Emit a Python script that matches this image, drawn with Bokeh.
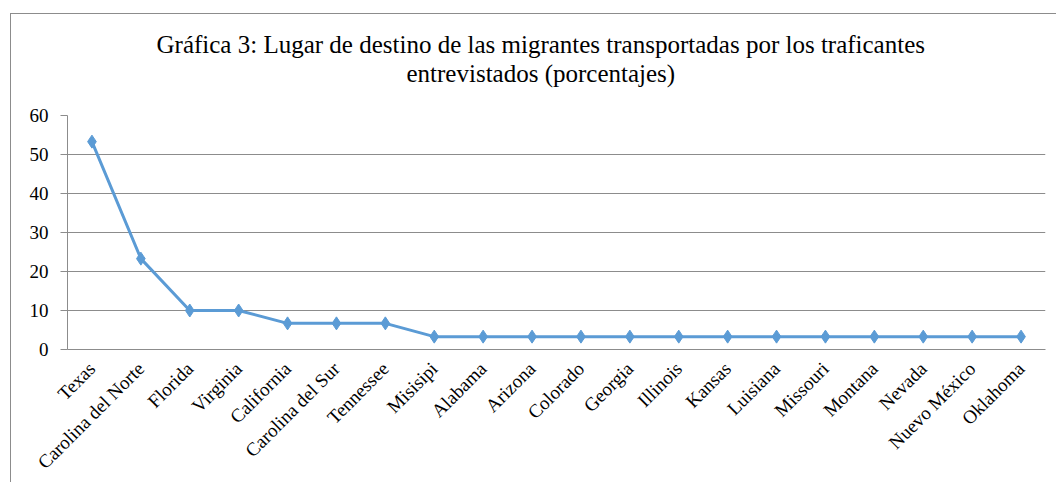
from bokeh.plotting import figure
from bokeh.embed import file_html
from bokeh.resources import INLINE
from bokeh.models import FactorRange, Range1d, FixedTicker, Title

categories = ["Texas", "Carolina del Norte", "Florida", "Virginia", "California",
              "Carolina del Sur", "Tennessee", "Misisipi", "Alabama", "Arizona",
              "Colorado", "Georgia", "Illinois", "Kansas", "Luisiana", "Missouri",
              "Montana", "Nevada", "Nuevo México", "Oklahoma"]
values = [53.3, 23.3, 10.0, 10.0, 6.7, 6.7, 6.7, 3.3, 3.3, 3.3,
          3.3, 3.3, 3.3, 3.3, 3.3, 3.3, 3.3, 3.3, 3.3, 3.3]
y_ticks = [0, 10, 20, 30, 40, 50, 60]
title_lines = ["Gráfica 3: Lugar de destino de las migrantes transportadas por los traficantes",
               "entrevistados (porcentajes)"]

FONT = "Liberation Serif"
GRAY = "#8c8c8c"
BLUE = "#5B9BD5"

p = figure(width=1046, height=469, output_backend="svg", toolbar_location=None,
           x_range=FactorRange(*categories, range_padding=0),
           y_range=Range1d(0, 60),
           min_border_left=56, min_border_right=12, min_border_top=101,
           min_border_bottom=134)
p.margin = (13, 0, 0, 10)
p.styles = {"border-top": "1px solid " + GRAY, "border-left": "1px solid " + GRAY}
p.title = None

title_style = dict(align="left", text_font=FONT, text_font_size="25px",
                   text_font_style="normal", text_color="#000000", standoff=0)
spacer = Title(text=" ", text_font_size="1px", standoff=26, align="left")
t2 = Title(text=title_lines[1], offset=339, **title_style)
t1 = Title(text=title_lines[0], offset=89, **title_style)
p.add_layout(spacer, "above")
p.add_layout(t2, "above")
p.add_layout(t1, "above")

p.outline_line_color = None
p.background_fill_color = "white"
p.border_fill_color = "white"

p.xgrid.grid_line_color = None
p.ygrid.grid_line_color = GRAY
p.ygrid.grid_line_width = 1

p.yaxis.ticker = FixedTicker(ticks=y_ticks)
p.yaxis.axis_line_color = GRAY
p.yaxis.major_tick_line_color = GRAY
p.yaxis.major_tick_out = 7
p.yaxis.major_tick_in = 0
p.yaxis.minor_tick_line_color = None
p.yaxis.major_label_standoff = 12

p.xaxis.axis_line_color = GRAY
p.xaxis.major_tick_line_color = None
p.xaxis.minor_tick_line_color = None
p.xaxis.major_label_orientation = 0.785398
p.xaxis.major_label_standoff = 10

for ax in (p.xaxis, p.yaxis):
    ax.major_label_text_font = FONT
    ax.major_label_text_font_size = "19px"
    ax.major_label_text_color = "#000000"

p.line(x=categories, y=values, line_color=BLUE, line_width=3)
p.scatter(x=categories, y=values, marker="diamond", size=13, fill_color=BLUE,
          line_color=BLUE)

open("out.html", "w").write(file_html(p, INLINE))
